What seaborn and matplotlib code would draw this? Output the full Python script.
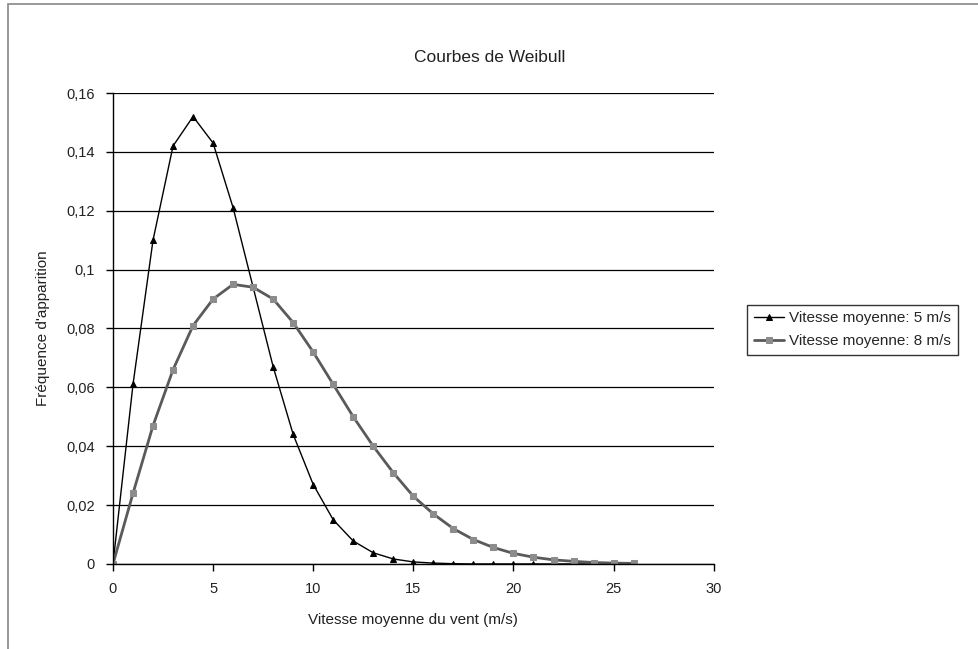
import numpy as np
import pandas as pd
import matplotlib
matplotlib.use("Agg")
import matplotlib.pyplot as plt
import seaborn as sns
from matplotlib.patches import Rectangle
from matplotlib.ticker import FuncFormatter

# Vitesse du vent (m/s)
vitesse = list(range(0, 27))

# Fréquence d'apparition, vitesse moyenne 5 m/s
freq_5 = [0.0, 0.061, 0.110, 0.142, 0.152, 0.143, 0.121, 0.094, 0.067, 0.044,
          0.027, 0.015, 0.0078, 0.0038, 0.0017, 0.0007, 0.0003, 0.0001, 0.0,
          0.0, 0.0, 0.0, 0.0, 0.0, 0.0, 0.0, 0.0]

# Fréquence d'apparition, vitesse moyenne 8 m/s
freq_8 = [0.0, 0.024, 0.047, 0.066, 0.081, 0.090, 0.095, 0.094, 0.090, 0.082,
          0.072, 0.061, 0.050, 0.040, 0.031, 0.023, 0.017, 0.012, 0.0083,
          0.0056, 0.0036, 0.0023, 0.0014, 0.0009, 0.0005, 0.0003, 0.0002]

labels = ["Vitesse moyenne: 5 m/s", "Vitesse moyenne: 8 m/s"]

sns.set_style("white")
plt.rcParams["font.family"] = ["Liberation Sans", "DejaVu Sans"]

fig = plt.figure(figsize=(9.79, 6.49), dpi=100)
ax = fig.add_axes([0.1154, 0.131, 0.6136, 0.7257])

sns.lineplot(x=vitesse, y=freq_5, ax=ax, color="black", lw=1.0,
             marker="^", markersize=5, markeredgecolor="black",
             label=labels[0])
sns.lineplot(x=vitesse, y=freq_8, ax=ax, color="#5a5a5a", lw=2.0,
             marker="s", markersize=5, markerfacecolor="#8c8c8c",
             markeredgecolor="#8c8c8c", label=labels[1])

ax.set_xlim(0, 30)
ax.set_ylim(0, 0.16)
ax.set_xticks(range(0, 31, 5))
ax.set_yticks(np.arange(0, 0.161, 0.02))
ax.yaxis.set_major_formatter(FuncFormatter(
    lambda v, p: "0" if abs(v) < 1e-9 else f"{v:.2f}".rstrip("0").replace(".", ",")))

ax.grid(axis="y", color="black", lw=0.9)
ax.grid(axis="x", visible=False)
for side in ["top", "right"]:
    ax.spines[side].set_visible(False)
for side in ["left", "bottom"]:
    ax.spines[side].set_color("black")
    ax.spines[side].set_linewidth(1.0)
ax.tick_params(axis="both", direction="out", length=5, width=1, color="black",
               labelsize=10.5, labelcolor="#222222", bottom=True, left=True, pad=8)

ax.set_xlabel("Vitesse moyenne du vent (m/s)", fontsize=11, color="#222222", labelpad=12)
ax.set_ylabel("Fréquence d'apparition", fontsize=11, color="#222222", labelpad=12)

fig.text(0.5, 0.912, "Courbes de Weibull", ha="center", va="center",
         fontsize=12.5, color="#222222")

leg = ax.legend(loc="center left", bbox_to_anchor=(0.755, 0.492),
                bbox_transform=fig.transFigure, frameon=True, fancybox=False,
                fontsize=11, handlelength=2.0, borderpad=0.45,
                labelspacing=0.55, handletextpad=0.3)
leg.get_frame().set_edgecolor("black")
leg.get_frame().set_linewidth(1.0)

# cadre de la zone de graphique
fig.add_artist(Rectangle((0.008, -0.02), 1.1, 1.014, transform=fig.transFigure,
                         fill=False, edgecolor="#888888", lw=1.2))

fig.savefig("out.png", dpi=100)
